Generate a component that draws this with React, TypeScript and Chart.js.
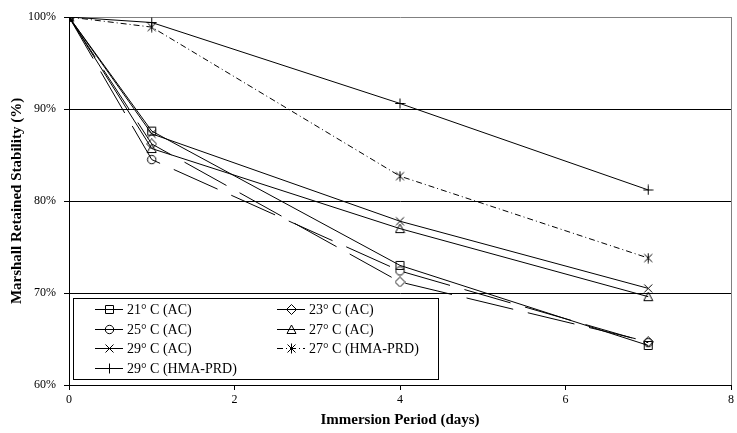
import React, { useEffect, useRef } from 'react';
import { Chart, registerables } from 'chart.js';
Chart.register(...registerables);

// ---- data ----
const days = [0, 1, 4, 7];
const seriesNames = [
  '21° C (AC)',
  '23° C (AC)',
  '25° C (AC)',
  '27° C (AC)',
  '29° C (AC)',
  '27° C (HMA-PRD)',
  '29° C (HMA-PRD)',
];
const s21AC = [100, 87.6, 73.0, 64.3];
const s23AC = [100, 86.2, 71.2, 64.7];
const s25AC = [100, 84.5, 72.4, 64.6];
const s27AC = [100, 85.7, 77.0, 69.6];
const s29AC = [100, 87.3, 77.8, 70.5];
const s27HMA = [100, 98.9, 82.7, 73.8];
const s29HMA = [100, 99.4, 90.6, 81.2];

const xTickValues = [0, 2, 4, 6, 8];
const yTickValues = [60, 70, 80, 90, 100];

type Shape = 'square' | 'diamond' | 'circle' | 'triangle' | 'x' | 'star' | 'plus';

function makeMarker(shape: Shape): HTMLCanvasElement {
  const c = document.createElement('canvas');
  c.width = 11;
  c.height = 11;
  const g = c.getContext('2d')!;
  g.strokeStyle = '#000';
  g.lineWidth = 1;
  g.beginPath();
  switch (shape) {
    case 'square':
      g.rect(1.5, 1.5, 8, 8);
      break;
    case 'diamond':
      g.moveTo(5.5, 0.5);
      g.lineTo(10.5, 5.5);
      g.lineTo(5.5, 10.5);
      g.lineTo(0.5, 5.5);
      g.closePath();
      break;
    case 'circle':
      g.arc(5.5, 5.5, 4.2, 0, Math.PI * 2);
      break;
    case 'triangle':
      g.moveTo(5.5, 1);
      g.lineTo(10, 9.5);
      g.lineTo(1, 9.5);
      g.closePath();
      break;
    case 'x':
      g.moveTo(1.5, 1.5);
      g.lineTo(9.5, 9.5);
      g.moveTo(9.5, 1.5);
      g.lineTo(1.5, 9.5);
      break;
    case 'star':
      g.moveTo(1.5, 1.5);
      g.lineTo(9.5, 9.5);
      g.moveTo(9.5, 1.5);
      g.lineTo(1.5, 9.5);
      g.moveTo(5.5, 0.5);
      g.lineTo(5.5, 10.5);
      break;
    case 'plus':
      g.moveTo(5.5, 0.5);
      g.lineTo(5.5, 10.5);
      g.moveTo(0.5, 5.5);
      g.lineTo(10.5, 5.5);
      break;
  }
  g.stroke();
  return c;
}

const FONT = '"Liberation Serif", "Times New Roman", serif';

export default function App() {
  const ref = useRef<HTMLCanvasElement | null>(null);

  useEffect(() => {
    if (!ref.current) return;
    const shapes: Shape[] = ['square', 'diamond', 'circle', 'triangle', 'x', 'star', 'plus'];
    const markers = shapes.map(makeMarker);
    const values = [s21AC, s23AC, s25AC, s27AC, s29AC, s27HMA, s29HMA];
    const dashes: number[][] = [[], [48, 15], [48, 15], [], [], [6, 3, 1, 3], []];

    const toPts = (arr: number[]) => arr.map((v, i) => ({ x: days[i], y: v }));

    const datasets: any[] = values.map((vals, i) => ({
      label: seriesNames[i],
      data: toPts(vals),
      borderColor: '#000',
      backgroundColor: 'rgba(0,0,0,0)',
      borderWidth: 1,
      borderDash: dashes[i],
      pointStyle: markers[i],
      pointRadius: 5,
      fill: false,
    }));

    const legendPlugin = {
      id: 'customLegend',
      afterDraw(chart: any) {
        const ctx = chart.ctx as CanvasRenderingContext2D;
        ctx.save();
        const bx = 73.5, by = 298.5, bw = 365, bh = 81;
        ctx.fillStyle = '#fff';
        ctx.fillRect(bx, by, bw, bh);
        ctx.strokeStyle = '#000';
        ctx.lineWidth = 1;
        ctx.setLineDash([]);
        ctx.strokeRect(bx, by, bw, bh);
        ctx.font = `14px ${FONT}`;
        ctx.textBaseline = 'middle';
        ctx.textAlign = 'left';
        seriesNames.forEach((name, i) => {
          const col = i % 2;
          const row = Math.floor(i / 2);
          const x0 = col === 0 ? 95 : 277;
          const y = Math.round(309 + row * 19.7);
          ctx.strokeStyle = '#000';
          ctx.setLineDash(dashes[i]);
          ctx.beginPath();
          ctx.moveTo(x0, y + 0.5);
          ctx.lineTo(x0 + 28, y + 0.5);
          ctx.stroke();
          ctx.setLineDash([]);
          ctx.drawImage(markers[i], x0 + 14 - 5, y - 5);
          ctx.fillStyle = '#000';
          ctx.fillText(name, x0 + 32, y + 1);
        });
        ctx.restore();
      },
    };

    const chart = new Chart(ref.current, {
      type: 'line',
      data: { datasets },
      plugins: [legendPlugin],
      options: {
        animation: false,
        responsive: true,
        maintainAspectRatio: false,
        layout: { padding: { top: 17, right: 4, left: 0, bottom: 0 } },
        plugins: {
          legend: { display: false },
          tooltip: { enabled: false },
        },
        elements: { line: { tension: 0 } },
        scales: {
          x: {
            type: 'linear',
            min: 0,
            max: 8,
            afterFit: (s: any) => {
              s.height = 48;
              s.paddingRight = 1;
              s.paddingLeft = 1;
            },
            afterBuildTicks: (s: any) => {
              s.ticks = xTickValues.map((v) => ({ value: v }));
            },
            ticks: {
              color: '#000',
              font: { family: FONT, size: 12 },
              padding: 3,
              maxRotation: 0,
            },
            grid: {
              color: (c: any) => (c.tick && c.tick.value === 8 ? '#808080' : 'rgba(0,0,0,0)'),
              tickColor: '#000',
              tickLength: 5,
              lineWidth: 1,
            },
            border: { color: '#000', width: 1 },
            title: {
              display: true,
              text: 'Immersion Period (days)',
              color: '#000',
              font: { family: FONT, size: 15, weight: 'bold' },
              padding: { top: 0, bottom: 4 },
            },
          },
          y: {
            type: 'linear',
            min: 60,
            max: 100,
            afterFit: (s: any) => {
              s.width = 69;
            },
            afterBuildTicks: (s: any) => {
              s.ticks = yTickValues.map((v) => ({ value: v }));
            },
            ticks: {
              color: '#000',
              font: { family: FONT, size: 12 },
              padding: 8,
              callback: (v: any) => `${v}%`,
            },
            grid: {
              color: (c: any) => (c.tick && c.tick.value === 100 ? '#808080' : '#000'),
              tickColor: '#000',
              tickLength: 5,
              lineWidth: 1,
            },
            border: { color: '#000', width: 1 },
            title: {
              display: true,
              text: 'Marshall Retained Stability (%)',
              color: '#000',
              font: { family: FONT, size: 15, weight: 'bold' },
              padding: { top: 8, bottom: 0 },
            },
          },
        },
      } as any,
    });
    return () => chart.destroy();
  }, []);

  return (
    <div style={{ position: 'fixed', left: 0, top: 0, width: 737, height: 433, background: '#fff' }}>
      <canvas ref={ref} />
    </div>
  );
}
